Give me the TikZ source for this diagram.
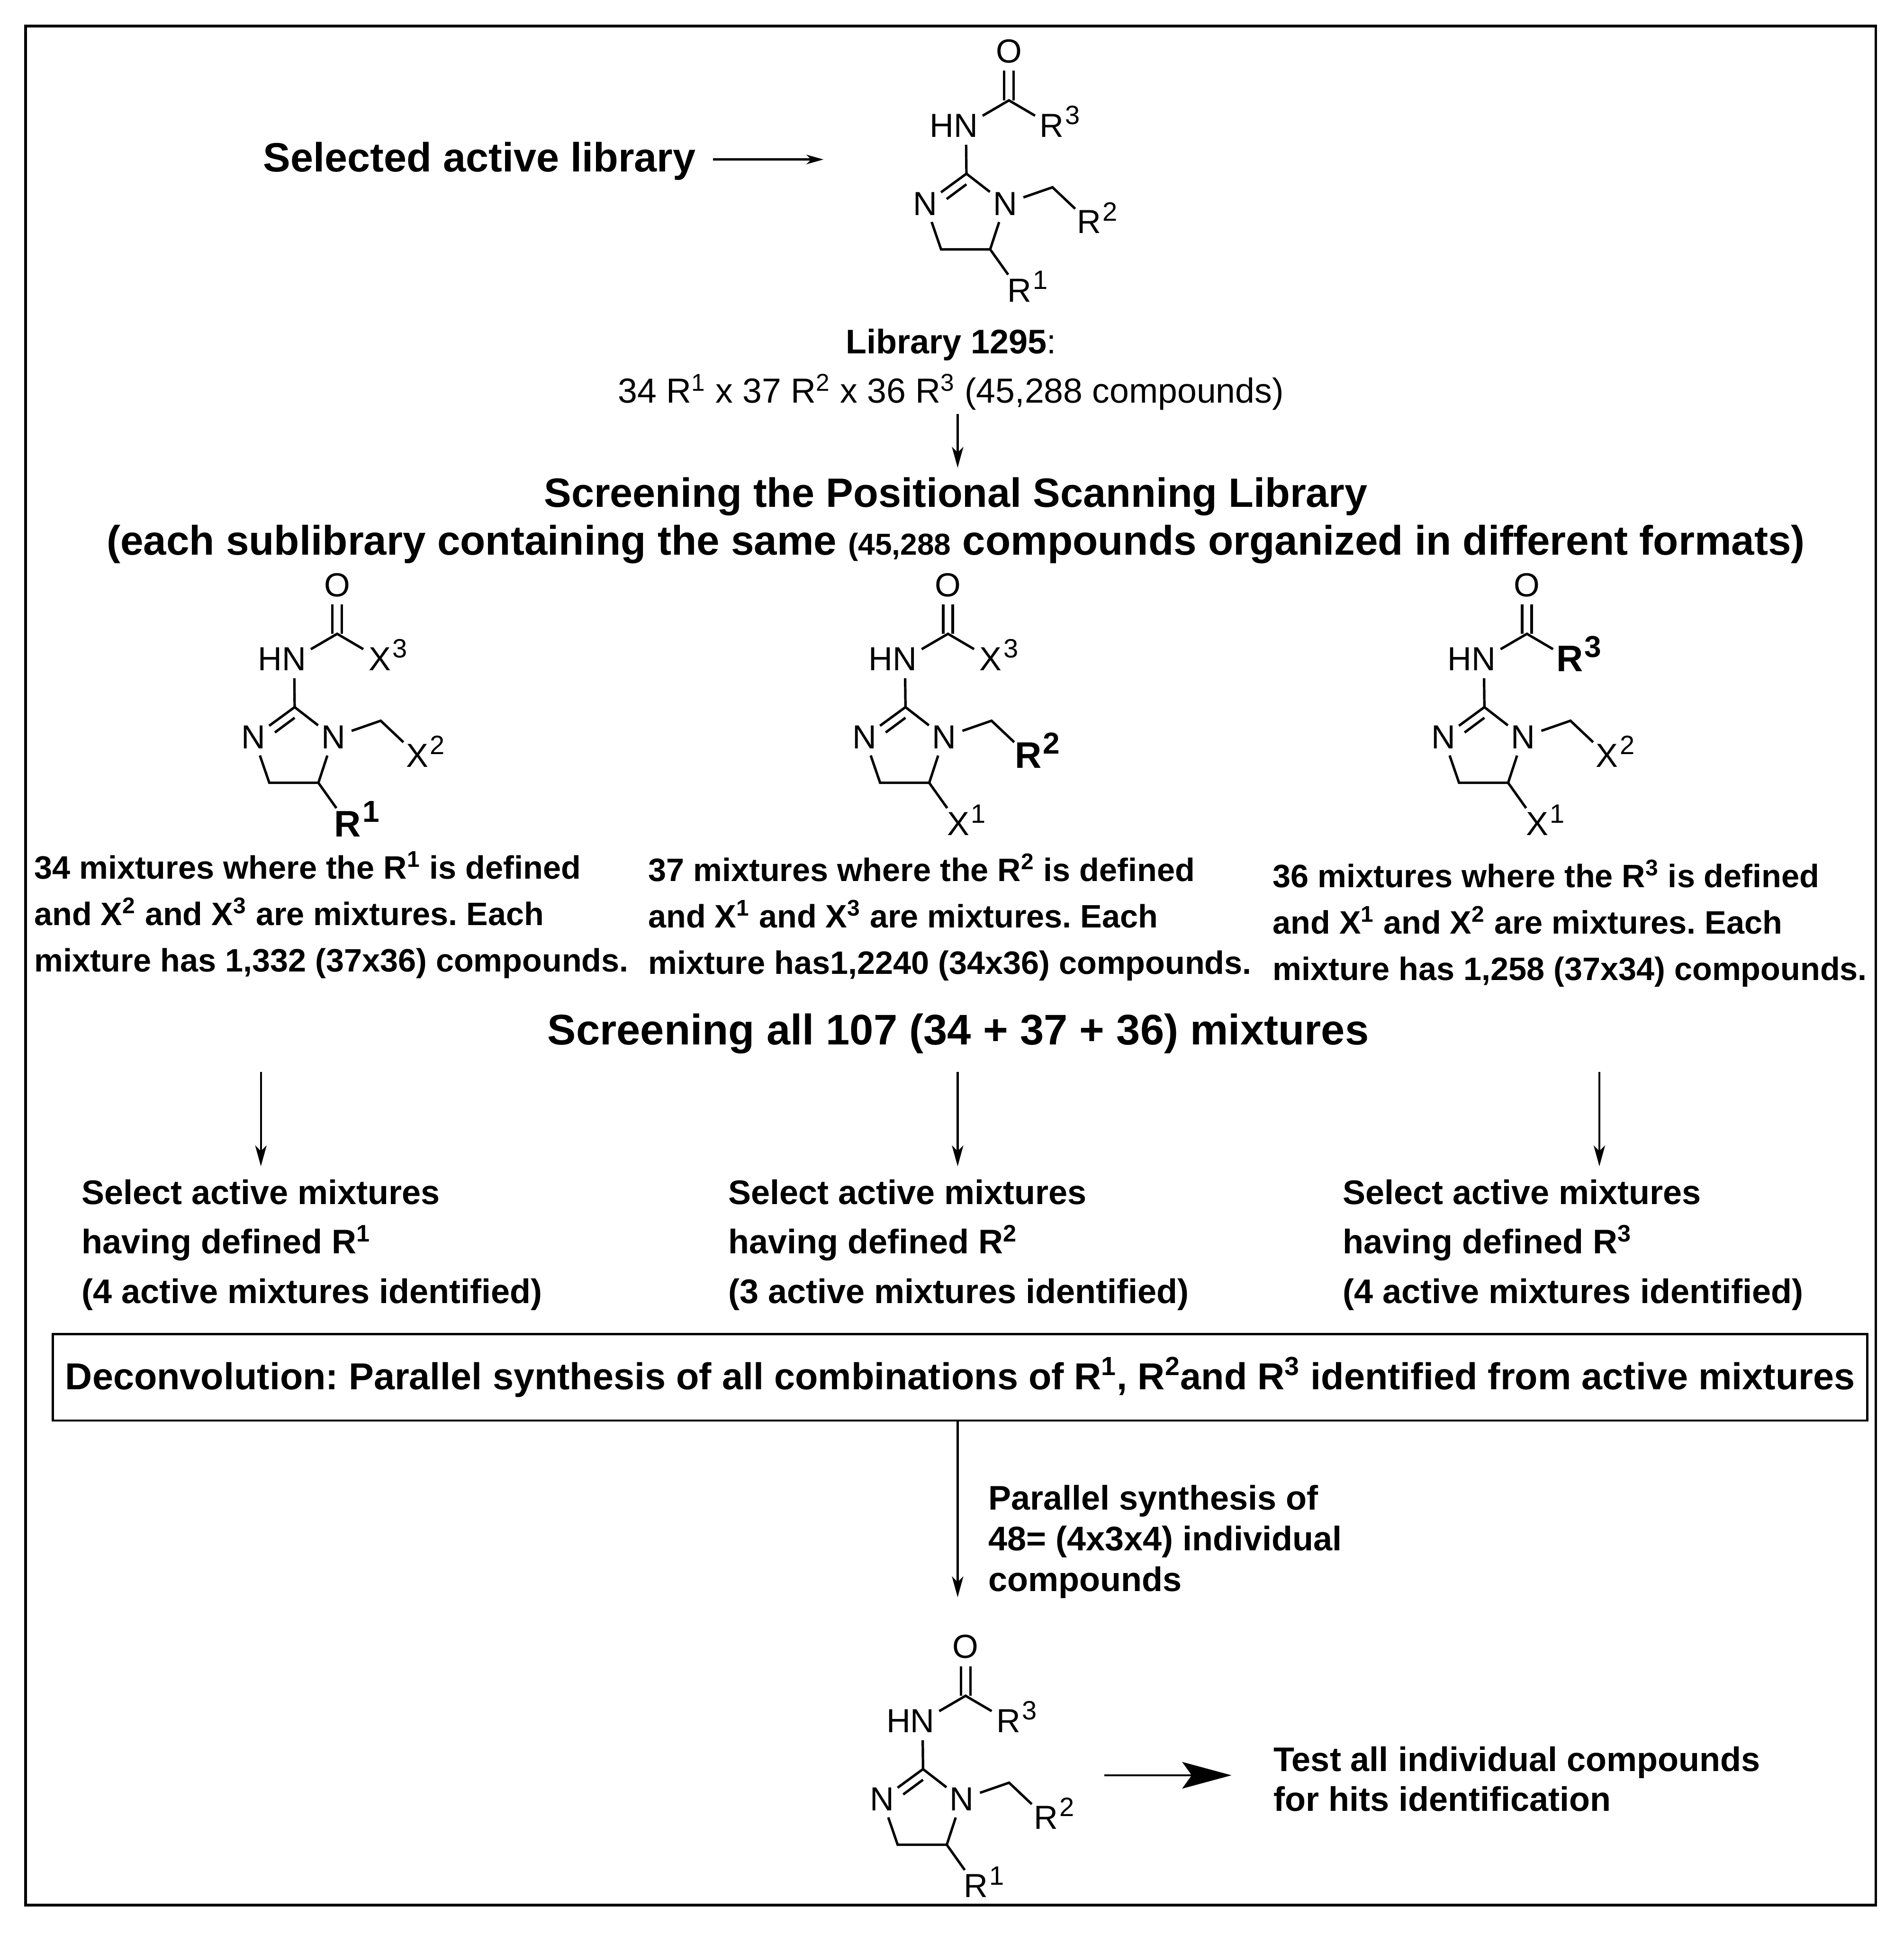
\documentclass[tikz,border=0pt]{standalone}
\usepackage{fontspec}
\usetikzlibrary{arrows.meta}
\setmainfont{Liberation Sans}

\newcommand{\atomsup}[2]{#1\rlap{\smash{\kern.8pt\raisebox{6.6pt}{\fontsize{14}{14}\selectfont #2}}}}
\newcommand{\boldsup}[2]{{\fontsize{19.5}{20}\selectfont\bfseries #1\rlap{\smash{\kern.8pt\raisebox{7.6pt}{\fontsize{16}{16}\selectfont\bfseries #2}}}}}

\tikzset{
    atom/.style={circle,inner sep=0pt,minimum size=20pt,font=\fontsize{17.6}{17}\selectfont},
    bond/.style={line width=1.3pt},
    arrowthin/.style={line width=1.1pt,-{Stealth[length=11pt,width=6pt,inset=3pt]}},
    arrowbig/.style={line width=1.2pt,-{Stealth[length=26pt,width=14pt,inset=5pt]}},
    txt/.style={font=\fontsize{#1}{#1}\selectfont\bfseries,inner sep=0pt,outer xsep=0pt,outer ysep=5pt},
    para/.style={align=left,anchor=west,inner sep=0pt,font=\fontsize{17.1}{24.5}\selectfont\bfseries},
    select/.style={align=left,anchor=west,inner sep=0pt,outer xsep=0pt,outer ysep=7pt,font=\fontsize{18}{26.1}\selectfont\bfseries},
    pics/imidazoline/.style n args={3}{code={
        \coordinate (c2) at (0,0);
        \coordinate (cone) at (34.4,-59.3);
        \coordinate (ch2) at (69.6,11);
        \coordinate (c4) at (-20.5,61.2);
        \coordinate (c5) at (19.2,61.2);
        \coordinate (db1) at (-16,20.5);
        \coordinate (db2) at (0,8.6);
        \node[atom] (nh) at (-0.4,-39) {\llap{H}N};
        \node[atom] (o) at (34.4,-98.9) {O};
        \node[atom] (r3) at (69,-39) {#3};
        \node[atom] (n3) at (-33.2,24.3) {N};
        \node[atom] (n1) at (31.3,24.3) {N};
        \node[atom] (r2) at (99.3,39.1) {#2};
        \node[atom] (r1) at (42.8,94.4) {#1};
        \draw[bond] (c2) -- (nh);
        \draw[bond] (nh) -- (cone) -- (r3);
        \draw[bond] ([xshift=-2.5pt]cone) -- ([xshift=-2.5pt]cone |- o.south);
        \draw[bond] ([xshift=2.5pt]cone) -- ([xshift=2.5pt]cone |- o.south);
        \draw[bond] (n3) -- (c2) -- (n1);
        \draw[bond] (db1) -- (db2);
        \draw[bond] (n1) -- (ch2) -- (r2);
        \draw[bond] (n3) -- (c4) -- (c5) -- (n1);
        \draw[bond] (c5) -- (r1);
    }},
}

\begin{document}
\frenchspacing
\begin{tikzpicture}[x=0.6525pt,y=-0.6525pt]
    \useasboundingbox (0,0) rectangle (1539.5,1564.4);
    \draw[line width=1.4pt] (20.7,21) rectangle (1517,1541);

    % selected library
    \node[txt=21.6,anchor=base west] (selected) at (213,139) {Selected active library};
    \coordinate (toparrow) at (666,129);
    \draw[arrowthin,-{Stealth[length=9pt,width=5pt,inset=2.5pt]}] (selected.east |- toparrow) ++(14,0) -- (toparrow);
    \pic (molTop) at (781.6,140.5) {imidazoline={\atomsup{R}{1}}{\atomsup{R}{2}}{\atomsup{R}{3}}};
    \node[txt=18,anchor=base west] (libname) at (684,286) {Library 1295\textmd{:}};
    \node[txt=18,anchor=base,font=\fontsize{18.35}{18}\selectfont,outer ysep=2pt] (libsize) at (769,326)
        {34 R\textsuperscript{1} x 37 R\textsuperscript{2} x 36 R\textsuperscript{3} (45,288 compounds)};

    % positional scanning
    \node[txt=21.6,anchor=base] (screen) at (773,410) {Screening the Positional Scanning Library};
    \node[txt=21.8,anchor=base] (screenb) at (773,449)
        {(each sublibrary containing the same {\fontsize{16}{16}\selectfont (45,288} compounds organized in different formats)};
    \coordinate (a2) at (774.5,335);
    \draw[arrowthin] (libsize.south -| a2) -- (a2 |- screen.north);

    \pic (molA) at (238.3,572) {imidazoline={\boldsup{R}{1}}{\atomsup{X}{2}}{\atomsup{X}{3}}};
    \pic (molB) at (732.3,572) {imidazoline={\atomsup{X}{1}}{\boldsup{R}{2}}{\atomsup{X}{3}}};
    \pic (molC) at (1200.5,572) {imidazoline={\atomsup{X}{1}}{\atomsup{X}{2}}{\boldsup{R}{3}}};

    \node[para] (paraA) at (27.4,740) {34 mixtures where the R\textsuperscript{1} is defined\\and X\textsuperscript{2} and X\textsuperscript{3} are mixtures. Each\\mixture has 1,332 (37x36) compounds.};
    \node[para] (paraB) at (524,742) {37 mixtures where the R\textsuperscript{2} is defined\\and X\textsuperscript{1} and X\textsuperscript{3} are mixtures. Each\\mixture has1,2240 (34x36) compounds.};
    \node[para] (paraC) at (1029,747) {36 mixtures where the R\textsuperscript{3} is defined\\and X\textsuperscript{1} and X\textsuperscript{2} are mixtures. Each\\mixture has 1,258 (37x34) compounds.};

    \node[txt=22.6,anchor=base] (screenall) at (775,845) {Screening all 107 (34 + 37 + 36) mixtures};

    % active mixtures
    \node[select] (selA) at (66,1007) {Select active mixtures\\having defined R\textsuperscript{1}\\(4 active mixtures identified)};
    \node[select] (selB) at (589,1007) {Select active mixtures\\having defined R\textsuperscript{2}\\(3 active mixtures identified)};
    \node[select] (selC) at (1086,1007) {Select active mixtures\\having defined R\textsuperscript{3}\\(4 active mixtures identified)};
    \coordinate (a3) at (211,867);
    \coordinate (a4) at (774.5,867);
    \coordinate (a5) at (1293.5,867);
    \draw[arrowthin] (a3) -- (a3 |- selA.north);
    \draw[arrowthin] (a4) -- (a4 |- selB.north);
    \draw[arrowthin] (a5) -- (a5 |- selC.north);

    \node[draw,line width=1.2pt,inner sep=0pt,minimum width=957.5pt,minimum height=45.7pt,font=\fontsize{19.8}{19}\selectfont\bfseries] (deconv) at (776.5,1114)
        {Deconvolution: Parallel synthesis of all combinations of R\textsuperscript{1}, R\textsuperscript{2}and R\textsuperscript{3} identified from active mixtures};

    \coordinate (molin) at (774.5,1292);
    \draw[arrowthin] (deconv.south -| molin) -- (molin);
    \node[select,font=\fontsize{18}{21.5}\selectfont\bfseries] (parallel) at (799.5,1247) {Parallel synthesis of\\48= (4x3x4) individual\\compounds};

    \pic (molEnd) at (746.5,1431) {imidazoline={\atomsup{R}{1}}{\atomsup{R}{2}}{\atomsup{R}{3}}};
    \coordinate (testa) at (893,1436);
    \coordinate (testb) at (996,1436);
    \draw[arrowbig] (testa) -- (testb);
    \node[select,font=\fontsize{18}{21}\selectfont\bfseries] (test) at (1030,1439) {Test all individual compounds\\for hits identification};
\end{tikzpicture}
\end{document}
